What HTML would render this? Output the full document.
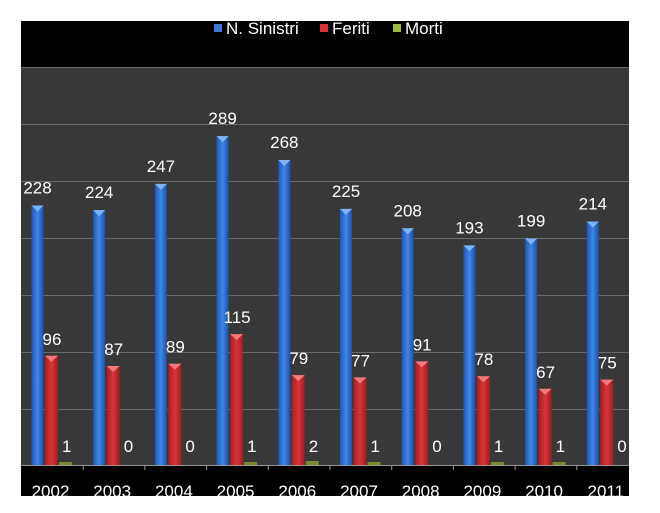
<!DOCTYPE html>
<html><head><style>
html,body{margin:0;padding:0;background:#fff;}
svg{display:block;font-family:"Liberation Sans",sans-serif;}
</style></head><body>
<svg width="660" height="513" viewBox="0 0 660 513">
<defs>
<linearGradient id="b" x1="0" x2="1"><stop offset="0" stop-color="#1f57b8"/><stop offset="0.5" stop-color="#3f86e6"/><stop offset="1" stop-color="#1c4fa8"/></linearGradient>
<linearGradient id="r" x1="0" x2="1"><stop offset="0" stop-color="#a81e22"/><stop offset="0.5" stop-color="#d9363a"/><stop offset="1" stop-color="#9e1c20"/></linearGradient>
</defs>
<rect x="21" y="21" width="608" height="475" fill="#000"/>
<rect x="21" y="67" width="608" height="398" fill="#383838"/>
<g stroke="#6a6a6a" stroke-width="1">
<line x1="21" x2="629" y1="67.5" y2="67.5"/><line x1="21" x2="629" y1="124.5" y2="124.5"/>
<line x1="21" x2="629" y1="181.5" y2="181.5"/><line x1="21" x2="629" y1="238.5" y2="238.5"/>
<line x1="21" x2="629" y1="295.5" y2="295.5"/><line x1="21" x2="629" y1="352.5" y2="352.5"/>
<line x1="21" x2="629" y1="409.5" y2="409.5"/>
</g>
<line x1="21" x2="629" y1="465.5" y2="465.5" stroke="#999"/>
<g font-size="17" fill="#fff">
<rect x="214" y="24" width="8" height="8" fill="#3a78d8"/><text x="226" y="34">N. Sinistri</text>
<rect x="320" y="24" width="8" height="8" fill="#d83438"/><text x="332" y="34">Feriti</text>
<rect x="393" y="24" width="8" height="8" fill="#9bbb3a"/><text x="405" y="34">Morti</text>
</g>
<g stroke="#999">
<line x1="83.2" x2="83.2" y1="465" y2="470"/><line x1="144.9" x2="144.9" y1="465" y2="470"/>
<line x1="206.6" x2="206.6" y1="465" y2="470"/><line x1="268.3" x2="268.3" y1="465" y2="470"/>
<line x1="330" x2="330" y1="465" y2="470"/><line x1="391.7" x2="391.7" y1="465" y2="470"/>
<line x1="453.4" x2="453.4" y1="465" y2="470"/><line x1="515.1" x2="515.1" y1="465" y2="470"/>
<line x1="576.8" x2="576.8" y1="465" y2="470"/>
</g>
<g font-size="17" fill="#fff" text-anchor="middle">
<g transform="translate(31.5,0)">
<rect x="0" y="205.5" width="12" height="259.5" fill="url(#b)"/><polygon points="0,205.5 12,205.5 6,211.5" fill="#7fb4f5"/>
<rect x="13.5" y="355.8" width="13" height="109.2" fill="url(#r)"/><polygon points="13.5,355.8 26.5,355.8 20,361.8" fill="#f07a7c"/>
<rect x="27.5" y="462" width="13" height="3" fill="#7a8a30"/>
<text x="6" y="193.5">228</text><text x="20.5" y="344.8">96</text><text x="30.5" y="452" text-anchor="start">1</text><text x="19" y="497">2002</text>
</g>
<g transform="translate(93.2,0)">
<rect x="0" y="210.1" width="12" height="254.9" fill="url(#b)"/><polygon points="0,210.1 12,210.1 6,216.1" fill="#7fb4f5"/>
<rect x="13.5" y="366" width="13" height="99" fill="url(#r)"/><polygon points="13.5,366 26.5,366 20,372" fill="#f07a7c"/>
<text x="6" y="198.1">224</text><text x="20.5" y="355">87</text><text x="30.5" y="452" text-anchor="start">0</text><text x="19" y="497">2003</text>
</g>
<g transform="translate(154.9,0)">
<rect x="0" y="183.9" width="12" height="281.1" fill="url(#b)"/><polygon points="0,183.9 12,183.9 6,189.9" fill="#7fb4f5"/>
<rect x="13.5" y="363.7" width="13" height="101.3" fill="url(#r)"/><polygon points="13.5,363.7 26.5,363.7 20,369.7" fill="#f07a7c"/>
<text x="6" y="171.9">247</text><text x="20.5" y="352.7">89</text><text x="30.5" y="452" text-anchor="start">0</text><text x="19" y="497">2004</text>
</g>
<g transform="translate(216.6,0)">
<rect x="0" y="136.1" width="12" height="328.9" fill="url(#b)"/><polygon points="0,136.1 12,136.1 6,142.1" fill="#7fb4f5"/>
<rect x="13.5" y="334.1" width="13" height="130.9" fill="url(#r)"/><polygon points="13.5,334.1 26.5,334.1 20,340.1" fill="#f07a7c"/>
<rect x="27.5" y="462" width="13" height="3" fill="#7a8a30"/>
<text x="6" y="124.1">289</text><text x="20.5" y="323.1">115</text><text x="30.5" y="452" text-anchor="start">1</text><text x="19" y="497">2005</text>
</g>
<g transform="translate(278.3,0)">
<rect x="0" y="160" width="12" height="305" fill="url(#b)"/><polygon points="0,160 12,160 6,166" fill="#7fb4f5"/>
<rect x="13.5" y="375.1" width="13" height="89.9" fill="url(#r)"/><polygon points="13.5,375.1 26.5,375.1 20,381.1" fill="#f07a7c"/>
<rect x="27.5" y="461" width="13" height="4" fill="#7a8a30"/>
<text x="6" y="148">268</text><text x="20.5" y="364.1">79</text><text x="30.5" y="452" text-anchor="start">2</text><text x="19" y="497">2006</text>
</g>
<g transform="translate(340,0)">
<rect x="0" y="208.9" width="12" height="256.1" fill="url(#b)"/><polygon points="0,208.9 12,208.9 6,214.9" fill="#7fb4f5"/>
<rect x="13.5" y="377.4" width="13" height="87.6" fill="url(#r)"/><polygon points="13.5,377.4 26.5,377.4 20,383.4" fill="#f07a7c"/>
<rect x="27.5" y="462" width="13" height="3" fill="#7a8a30"/>
<text x="6" y="196.9">225</text><text x="20.5" y="366.4">77</text><text x="30.5" y="452" text-anchor="start">1</text><text x="19" y="497">2007</text>
</g>
<g transform="translate(401.7,0)">
<rect x="0" y="228.3" width="12" height="236.7" fill="url(#b)"/><polygon points="0,228.3 12,228.3 6,234.3" fill="#7fb4f5"/>
<rect x="13.5" y="361.4" width="13" height="103.6" fill="url(#r)"/><polygon points="13.5,361.4 26.5,361.4 20,367.4" fill="#f07a7c"/>
<text x="6" y="216.3">208</text><text x="20.5" y="350.4">91</text><text x="30.5" y="452" text-anchor="start">0</text><text x="19" y="497">2008</text>
</g>
<g transform="translate(463.4,0)">
<rect x="0" y="245.4" width="12" height="219.6" fill="url(#b)"/><polygon points="0,245.4 12,245.4 6,251.4" fill="#7fb4f5"/>
<rect x="13.5" y="376.2" width="13" height="88.8" fill="url(#r)"/><polygon points="13.5,376.2 26.5,376.2 20,382.2" fill="#f07a7c"/>
<rect x="27.5" y="462" width="13" height="3" fill="#7a8a30"/>
<text x="6" y="233.4">193</text><text x="20.5" y="365.2">78</text><text x="30.5" y="452" text-anchor="start">1</text><text x="19" y="497">2009</text>
</g>
<g transform="translate(525.1,0)">
<rect x="0" y="238.5" width="12" height="226.5" fill="url(#b)"/><polygon points="0,238.5 12,238.5 6,244.5" fill="#7fb4f5"/>
<rect x="13.5" y="388.8" width="13" height="76.2" fill="url(#r)"/><polygon points="13.5,388.8 26.5,388.8 20,394.8" fill="#f07a7c"/>
<rect x="27.5" y="462" width="13" height="3" fill="#7a8a30"/>
<text x="6" y="226.5">199</text><text x="20.5" y="377.8">67</text><text x="30.5" y="452" text-anchor="start">1</text><text x="19" y="497">2010</text>
</g>
<g transform="translate(586.8,0)">
<rect x="0" y="221.5" width="12" height="243.5" fill="url(#b)"/><polygon points="0,221.5 12,221.5 6,227.5" fill="#7fb4f5"/>
<rect x="13.5" y="379.6" width="13" height="85.4" fill="url(#r)"/><polygon points="13.5,379.6 26.5,379.6 20,385.6" fill="#f07a7c"/>
<text x="6" y="209.5">214</text><text x="20.5" y="368.6">75</text><text x="30.5" y="452" text-anchor="start">0</text><text x="19" y="497">2011</text>
</g>
</g>
</svg>
</body></html>
